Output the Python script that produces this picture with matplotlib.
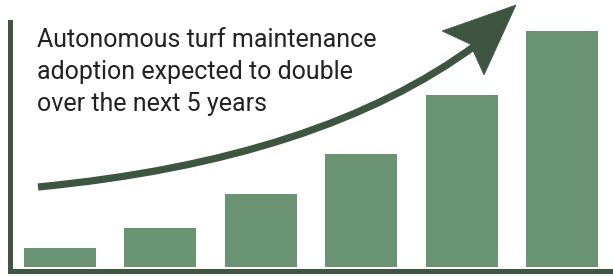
import matplotlib
matplotlib.use("Agg")
import matplotlib.pyplot as plt
from matplotlib.path import Path
from matplotlib.patches import PathPatch, Polygon

# bar heights (arbitrary units, roughly pixels)
years = [1, 2, 3, 4, 5, 6]
adoption = [19, 39, 73, 113, 172, 236]
note = "Autonomous turf maintenance\nadoption expected to double\nover the next 5 years"

dark = "#3d5541"
bar_col = "#6a9374"

W, H = 613, 276
fig = plt.figure(figsize=(W / 100, H / 100), dpi=100)

ax = fig.add_axes([9.5 / W, (H - 270.5) / H, (610 - 9.5) / W, (270.5 - 22) / H])
ax.bar(range(len(years)), adoption, width=0.717, color=bar_col)
ax.set_xlim(-0.503, 5.478)
ax.set_ylim(-3.5, 245)
for s in ["top", "right"]:
    ax.spines[s].set_visible(False)
for s in ["left", "bottom"]:
    ax.spines[s].set_color(dark)
    ax.spines[s].set_linewidth(3.6)
    ax.spines[s].set_capstyle("projecting")
ax.set_xticks([])
ax.set_yticks([])
ax.patch.set_alpha(0)

# overlay in pixel coords for the arrow and the note
ov = fig.add_axes([0, 0, 1, 1])
ov.set_xlim(0, W)
ov.set_ylim(H, 0)
ov.axis("off")
ov.patch.set_alpha(0)

curve = Path([(38, 187), (320, 160), (476, 45)], [Path.MOVETO, Path.CURVE3, Path.CURVE3])
ov.add_patch(PathPatch(curve, fill=False, edgecolor=dark, lw=5.2, capstyle="butt"))
ov.add_patch(Polygon([(516, 5), (442, 31), (470, 44), (484, 75)], closed=True,
                     facecolor=dark, edgecolor=dark, lw=0.5))

ov.text(37, 28, note, fontsize=18, family="Roboto", color="#222222",
        va="top", ha="left", linespacing=1.42)

fig.savefig("out.png", dpi=100)
